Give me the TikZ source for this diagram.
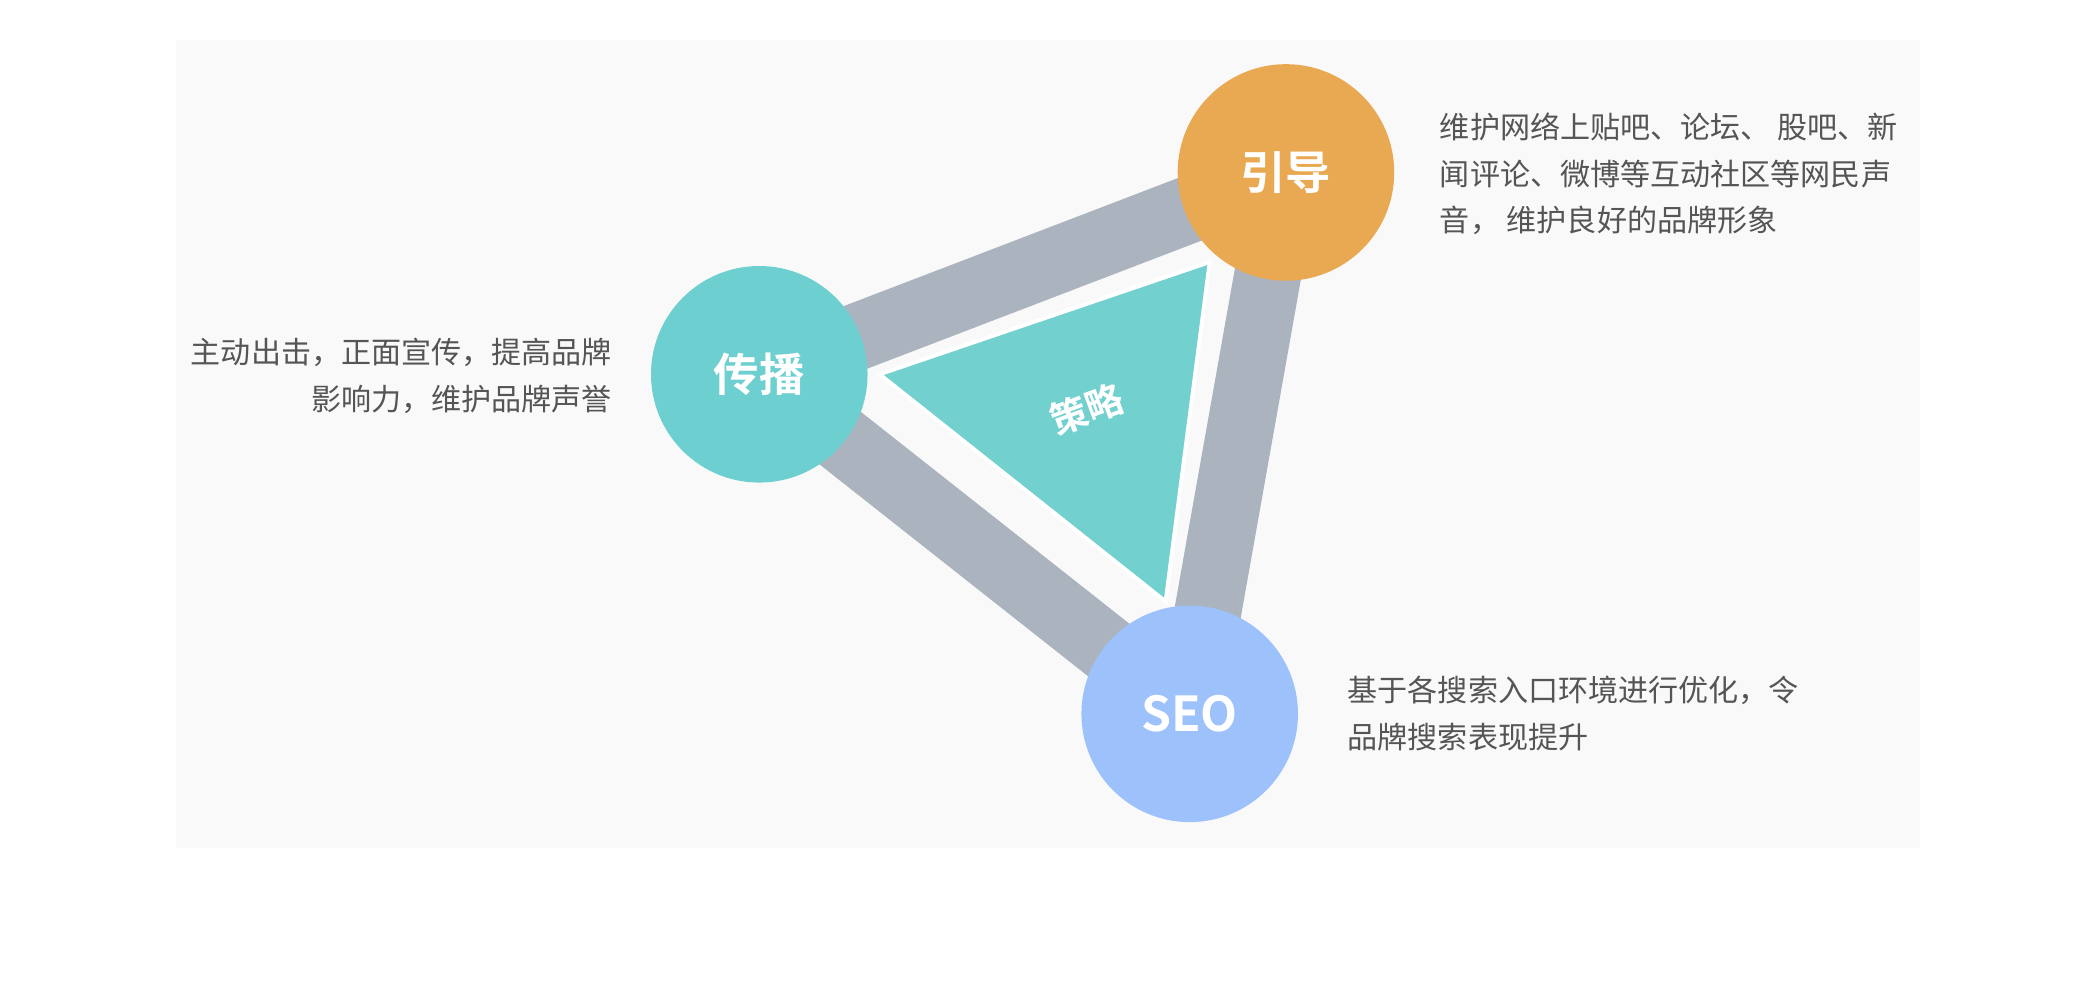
\documentclass[tikz,border=0pt]{standalone}
\usepackage{fontspec}
\setmainfont{Noto Sans CJK SC}
\newfontfamily\cjkb{Noto Sans CJK SC Bold}
\definecolor{bgc}{HTML}{F9F9F9}
\definecolor{band}{HTML}{ABB3BF}
\definecolor{teal}{HTML}{6DCFCF}
\definecolor{tri}{HTML}{72D0CF}
\definecolor{orng}{HTML}{E8A952}
\definecolor{blu}{HTML}{9DC1FB}
\definecolor{txt}{HTML}{555555}
\tikzset{
 circ/.style={circle,minimum size=162pt,inner sep=0pt,text=white,font=\cjkb\fontsize{34}{34}\selectfont},
 desc/.style={text=txt,font=\fontsize{22.5}{35}\selectfont,inner sep=0pt}
}
\begin{document}
\begin{tikzpicture}[x=1pt,y=-1pt]
\useasboundingbox (0,0) rectangle (1568,748);
\fill[white] (0,0) rectangle (1568,748);
\fill[bgc] (132,30) rectangle (1436,634);
\coordinate (A) at (568,280);
\coordinate (B) at (962,129);
\coordinate (C) at (890,534);
\draw[band,line width=50pt,line join=round] (A)--(B)--(C)--cycle;
\coordinate (t1) at (658,280);
\coordinate (t2) at (905,196);
\coordinate (t3) at (872,450);
\draw[white,fill=tri,line width=3pt] (t1)--(t2)--(t3)--cycle;
\node[text=white,font=\cjkb\fontsize{28}{28}\selectfont,rotate=20] (s) at (813,306) {策略};
\node[circ,fill=teal] (cb) at (A) {传播};
\node[circ,fill=orng] (yd) at (B) {引导};
\node[circ,fill=blu,font=\cjkb\fontsize{36}{36}\selectfont] (seo) at (C) {SEO};
\node[desc,anchor=west,align=left] (d1) at (1077,130) {维护网络上贴吧、论坛、 股吧、新\\闻评论、微博等互动社区等网民声\\音， 维护良好的品牌形象};
\node[desc,anchor=east,align=right] (d2) at (458,281) {主动出击，正面宣传，提高品牌\\影响力，维护品牌声誉};
\node[desc,anchor=west,align=left] (d3) at (1008,534) {基于各搜索入口环境进行优化，令\\品牌搜索表现提升};
\end{tikzpicture}
\end{document}
